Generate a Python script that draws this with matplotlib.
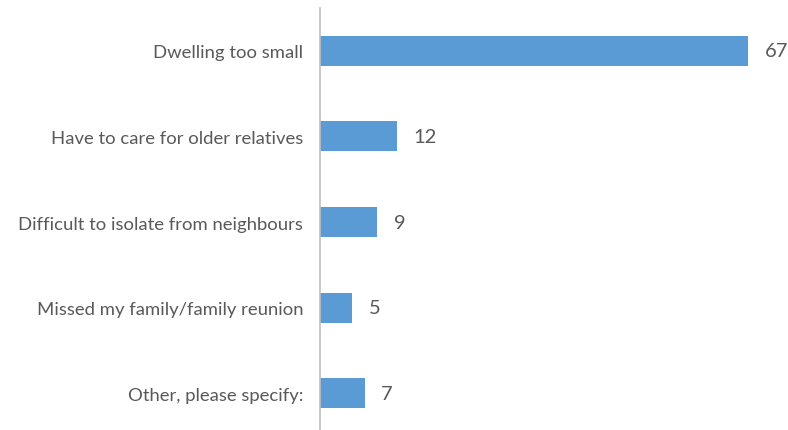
import matplotlib
matplotlib.use("Agg")
import matplotlib.pyplot as plt

categories = ["Dwelling too small",
              "Have to care for older relatives",
              "Difficult to isolate from neighbours",
              "Missed my family/family reunion",
              "Other, please specify:"]
values = [67, 12, 9, 5, 7]

plt.rcParams['font.family'] = ['Lato', 'DejaVu Sans']

fig = plt.figure(figsize=(7.88, 4.31), dpi=100)
ax = fig.add_axes([0.406, -0.0146, 0.594, 0.994])

pos = list(range(len(categories)))
ax.barh(pos, values, height=0.35, color="#5B9BD5")
ax.set_ylim(len(categories) - 0.5, -0.5)
ax.set_xlim(0, 73.2)

for p, v in zip(pos, values):
    ax.text(v + 2.6, p, str(v), va="center", ha="left", fontsize=14.5, color="#595959")

ax.set_yticks(pos)
ax.set_yticklabels(categories, fontsize=13.3, color="#595959")
ax.tick_params(axis="y", length=0, pad=12)
ax.set_xticks([])
for s in ["top", "right", "bottom"]:
    ax.spines[s].set_visible(False)
ax.spines["left"].set_color("#BFBFBF")
ax.spines["left"].set_linewidth(1.2)

fig.savefig("out.png", dpi=100)
